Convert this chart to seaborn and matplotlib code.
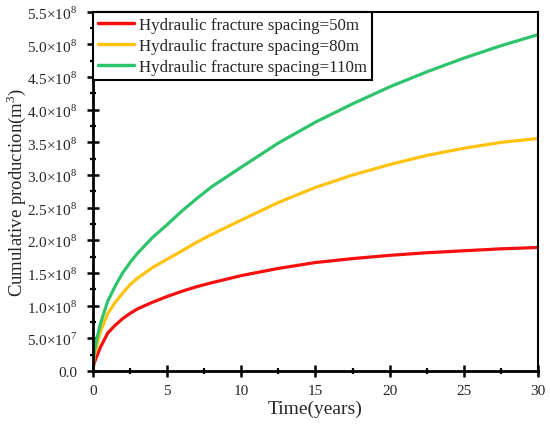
import numpy as np
import pandas as pd
import seaborn as sns
import matplotlib
matplotlib.use('Agg')
import matplotlib.pyplot as plt
from matplotlib.ticker import MultipleLocator

# data (cumulative production, units of 1e8 m3)
time_years = [0, 0.05, 0.1, 0.25, 0.5, 1, 1.5, 2, 2.5, 3, 4, 5, 6, 7, 8, 10,
              12.5, 15, 17.5, 20, 22.5, 25, 27.5, 30]
prod_50m = [0, 0.09, 0.13, 0.22, 0.36, 0.58, 0.70, 0.80, 0.88, 0.95, 1.05, 1.14, 1.22,
            1.29, 1.35, 1.46, 1.57, 1.66, 1.72, 1.77, 1.81, 1.84, 1.87, 1.89]
prod_80m = [0, 0.16, 0.24, 0.38, 0.60, 0.88, 1.05, 1.19, 1.32, 1.42, 1.58, 1.71, 1.84,
            1.97, 2.09, 2.31, 2.58, 2.81, 3.00, 3.16, 3.30, 3.41, 3.50, 3.56]
prod_110m = [0, 0.20, 0.30, 0.48, 0.72, 1.07, 1.30, 1.50, 1.66, 1.80, 2.04, 2.24, 2.45,
             2.64, 2.82, 3.12, 3.49, 3.81, 4.09, 4.35, 4.58, 4.79, 4.98, 5.15]

labels = ['Hydraulic fracture spacing=50m',
          'Hydraulic fracture spacing=80m',
          'Hydraulic fracture spacing=110m']
colors = ['#f50f0f', '#ffc20e', '#2dc46c']

yticks = [0, 0.5e8, 1.0e8, 1.5e8, 2.0e8, 2.5e8, 3.0e8, 3.5e8, 4.0e8, 4.5e8, 5.0e8, 5.5e8]
ytick_labels = ['0.0', r'5.0$\times$10$^7$', r'1.0$\times$10$^8$', r'1.5$\times$10$^8$',
                r'2.0$\times$10$^8$', r'2.5$\times$10$^8$', r'3.0$\times$10$^8$', r'3.5$\times$10$^8$',
                r'4.0$\times$10$^8$', r'4.5$\times$10$^8$', r'5.0$\times$10$^8$', r'5.5$\times$10$^8$']
xticks = [0, 5, 10, 15, 20, 25, 30]

rows = []
for lab, vals in zip(labels, [prod_50m, prod_80m, prod_110m]):
    for t, v in zip(time_years, vals):
        rows.append({'Time': t, 'Production': v * 1e8, 'Case': lab})
df = pd.DataFrame(rows)

sns.set_style('white')
plt.rcParams['font.family'] = ['Liberation Serif', 'DejaVu Serif']
plt.rcParams['mathtext.fontset'] = 'custom'
plt.rcParams['mathtext.rm'] = 'Liberation Serif'

fig = plt.figure(figsize=(5.5, 4.27), dpi=100)
ax = fig.add_axes([0.169, 0.129, 0.809, 0.841])

sns.lineplot(data=df, x='Time', y='Production', hue='Case', palette=colors,
             linewidth=2.3, ax=ax)

ax.set_xlim(0, 30)
ax.set_ylim(0, 5.5e8)
ax.set_xticks(xticks)
ax.set_xticklabels([str(x) for x in xticks])
ax.set_yticks(yticks)
ax.set_yticklabels(ytick_labels)
ax.xaxis.set_minor_locator(MultipleLocator(2.5))
ax.yaxis.set_minor_locator(MultipleLocator(0.25e8))

ax.tick_params(which='major', direction='inout', length=9, width=1.8, labelsize=11,
               bottom=True, left=True, top=False, right=False, color='black')
ax.tick_params(which='minor', direction='inout', length=5, width=1.6,
               bottom=True, left=True, top=False, right=False, color='black')
ax.tick_params(axis='x', which='major', pad=5)
ax.tick_params(axis='y', which='major', pad=7)
for sp in ax.spines.values():
    sp.set_color('black')
    sp.set_linewidth(1.5)
ax.spines['left'].set_linewidth(2)
ax.spines['bottom'].set_linewidth(2)

ax.set_xlabel('Time(years)', fontsize=14)
ax.set_ylabel('Cumulative production(m$^3$)', fontsize=13.5)
ax.xaxis.set_label_coords(0.5, -0.08)
ax.yaxis.set_label_coords(-0.147, 0.5)

leg = ax.legend(loc='upper left', fontsize=12.2, frameon=True, fancybox=False,
                edgecolor='black', framealpha=1, borderaxespad=0,
                handlelength=2.1, handletextpad=0.3, labelspacing=0.3,
                borderpad=0.3)
leg.get_frame().set_linewidth(1.5)
for line in leg.get_lines():
    line.set_linewidth(2.5)

fig.savefig('out.png', dpi=100)
